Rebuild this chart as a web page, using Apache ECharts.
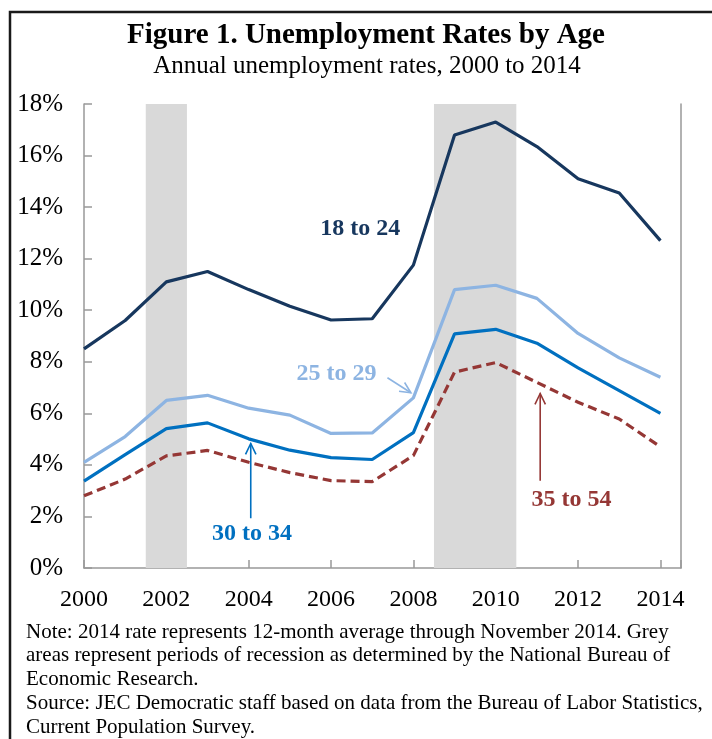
<!DOCTYPE html>
<html>
<head>
<meta charset="utf-8">
<script src="https://cdn.jsdelivr.net/npm/echarts@6/dist/echarts.min.js"></script>
<style>html,body{margin:0;padding:0;background:#fff}#c{width:712px;height:739px}</style>
</head>
<body>
<div id="c"></div>
<script>
const years = [2000,2001,2002,2003,2004,2005,2006,2007,2008,2009,2010,2011,2012,2013,2014];
const age18to24 = [8.5,9.6,11.1,11.5,10.8,10.15,9.62,9.67,11.75,16.8,17.3,16.35,15.1,14.55,12.7];
const age25to29 = [4.1,5.1,6.5,6.7,6.2,5.93,5.22,5.24,6.6,10.8,10.97,10.46,9.1,8.15,7.4];
const age30to34 = [3.37,4.4,5.41,5.63,5.01,4.57,4.28,4.21,5.25,9.08,9.26,8.72,7.76,6.88,6.0];
const age35to54 = [2.8,3.45,4.35,4.56,4.1,3.7,3.39,3.35,4.36,7.6,7.97,7.2,6.43,5.78,4.7];
const recessions = [[2001.5,2002.5],[2008.5,2010.5]];
const serif = "'Liberation Serif', serif";

const pair = arr => years.map((y,i)=>[y,arr[i]]);
const chart = echarts.init(document.getElementById('c'), null, {renderer:'canvas'});
const opt = {
  animation:false,
  grid:{left:84, right:31, top:104, bottom:171, containLabel:false},
  xAxis:{type:'value', min:2000, max:2014.5, interval:2,
    axisLine:{show:true, lineStyle:{color:'#999', width:1.5}},
    axisTick:{show:true, inside:true, length:8, lineStyle:{color:'#999', width:1.5}},
    splitLine:{show:false},
    axisLabel:{fontFamily:serif, fontSize:24, color:'#000', margin:20,
      formatter:v=> (Number.isInteger(v) && v%2===0) ? String(v) : ''}},
  yAxis:[{type:'value', min:0, max:18, interval:2,
    axisLine:{show:true, lineStyle:{color:'#999', width:1.5}},
    axisTick:{show:true, inside:true, length:8, lineStyle:{color:'#999', width:1.5}},
    splitLine:{show:false},
    axisLabel:{fontFamily:serif, fontSize:25, color:'#000', margin:21, formatter:'{value}%'}},
    {type:'value', min:0, max:18, interval:2, position:'right',
    axisLine:{show:true, lineStyle:{color:'#999', width:1.5}},
    axisTick:{show:false}, axisLabel:{show:false}, splitLine:{show:false}}],
  series:[
    {name:'recession', type:'line', data:[], z:1, silent:true,
     markArea:{silent:true, itemStyle:{color:'#d9d9d9'},
       data:recessions.map(r=>[{xAxis:r[0]},{xAxis:r[1]}])}},
    {name:'18 to 24', type:'line', data:pair(age18to24), symbol:'none', z:3,
     lineStyle:{color:'#17375e', width:3.2}},
    {name:'25 to 29', type:'line', data:pair(age25to29), symbol:'none', z:3,
     lineStyle:{color:'#8db4e2', width:3.2}},
    {name:'30 to 34', type:'line', data:pair(age30to34), symbol:'none', z:3,
     lineStyle:{color:'#0070c0', width:3.2}},
    {name:'35 to 54', type:'line', data:pair(age35to54), symbol:'none', z:3,
     lineStyle:{color:'#953735', width:3.2, type:[9,5]}}
  ]
};
chart.setOption(opt);

const P = (x,y)=>chart.convertToPixel({xAxisIndex:0, yAxisIndex:0},[x,y]);
function label(txt,x,y,color){
  const p=P(x,y);
  return {type:'text', x:p[0], y:p[1], z:10, style:{text:txt, fill:color, font:"bold 24px 'Liberation Serif', serif", textAlign:'center', textVerticalAlign:'middle'}};
}
function arrow(x1,y1,x2,y2,color){
  const a=P(x1,y1), b=P(x2,y2);
  const ang=Math.atan2(b[1]-a[1], b[0]-a[0]);
  const L=12, s=0.45;
  const h1=[b[0]-L*Math.cos(ang-s), b[1]-L*Math.sin(ang-s)];
  const h2=[b[0]-L*Math.cos(ang+s), b[1]-L*Math.sin(ang+s)];
  return [
    {type:'polyline', z:10, shape:{points:[a,b]}, style:{stroke:color, lineWidth:1.6, fill:null}},
    {type:'polyline', z:10, shape:{points:[h1,b,h2]}, style:{stroke:color, lineWidth:1.6, fill:null}}
  ];
}
const notes = [
  'Note: 2014 rate represents 12-month average through November 2014. Grey',
  'areas represent periods of recession as determined by the National Bureau of',
  'Economic Research.',
  'Source: JEC Democratic staff based on data from the Bureau of Labor Statistics,',
  'Current Population Survey.'
];
const g = [
  {type:'rect', z:0, shape:{x:10, y:12, width:900, height:900}, style:{fill:null, stroke:'#1a1a1a', lineWidth:2.5}},
  {type:'text', x:366, y:36, z:10, style:{text:'Figure 1. Unemployment Rates by Age', fill:'#000',
     font:"bold 29px 'Liberation Serif', serif", textAlign:'center', textVerticalAlign:'middle'}},
  {type:'text', x:367, y:66, z:10, style:{text:'Annual unemployment rates, 2000 to 2014', fill:'#000',
     font:"25px 'Liberation Serif', serif", textAlign:'center', textVerticalAlign:'middle'}},
  label('18 to 24', 2006.71, 13.15, '#17375e'),
  label('25 to 29', 2006.13, 7.52, '#8db4e2'),
  label('30 to 34', 2004.08, 1.31, '#0070c0'),
  label('35 to 54', 2011.84, 2.63, '#953735'),
  ...arrow(2007.37,7.38,2007.94,6.8,'#8db4e2'),
  ...arrow(2004.05,1.93,2004.05,4.83,'#0070c0'),
  ...arrow(2011.08,3.38,2011.08,6.77,'#953735'),
  ...notes.map((t,i)=>({type:'text', x:26, y:632+i*23.8, z:10,
     style:{text:t, fill:'#000', font:"21px 'Liberation Serif', serif", textVerticalAlign:'middle'}}))
];
chart.setOption({graphic:g});
</script>
</body>
</html>
